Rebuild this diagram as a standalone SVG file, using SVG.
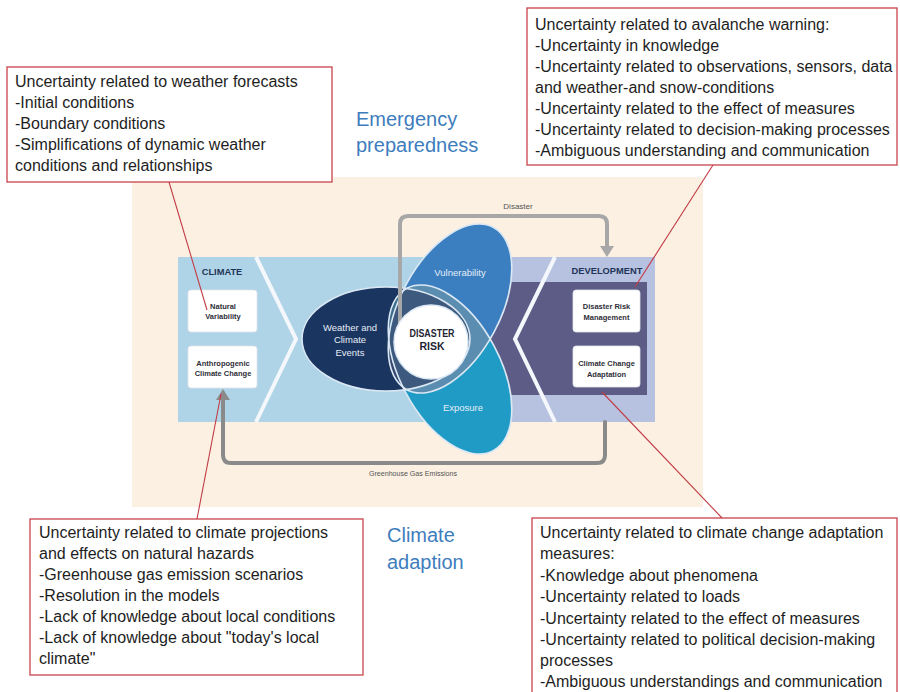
<svg xmlns="http://www.w3.org/2000/svg" width="900" height="692" viewBox="0 0 900 692">
  <defs>
    <style>
      .note{fill:#ffffff;stroke:#c8434a;stroke-width:1.3}
      .nt{font-family:"Liberation Sans",Arial,sans-serif;font-size:16px;fill:#1e1e1e}
      .lead{stroke:#c23b45;stroke-width:1.1;fill:none}
      .phase{font-family:"Liberation Sans",Arial,sans-serif;font-size:20px;fill:#3e7dbd}
      .card{fill:#ffffff;stroke:#dfe3ea;stroke-width:0.8}
      .ct{font-family:"Liberation Sans",Arial,sans-serif;font-size:7.5px;font-weight:bold;fill:#2e2e38;text-anchor:middle}
      .hd{font-family:"Liberation Sans",Arial,sans-serif;font-size:9.3px;font-weight:bold;fill:#1e3559;text-anchor:middle}
      .pt{font-family:"Liberation Sans",Arial,sans-serif;font-size:9.5px;fill:#e4edf6;text-anchor:middle}
      .edge{fill:none;stroke:#dbe8f4;stroke-width:1.6}
      .flow{fill:none;stroke-width:4;stroke-linecap:round;stroke-linejoin:round}
      .fl{font-family:"Liberation Sans",Arial,sans-serif;font-size:8px;fill:#555555;text-anchor:middle}
      .chev{fill:none;stroke:#f4f7fb;stroke-width:4}
    </style>
    <ellipse id="weatherShape" cx="386" cy="339" rx="84" ry="52"/>
    <ellipse id="vulnShape" cx="0" cy="0" rx="92" ry="50" transform="translate(450 308.5) rotate(-62)"/>
    <ellipse id="expoShape" cx="0" cy="0" rx="92" ry="50" transform="translate(450 369.5) rotate(62)"/>
    <clipPath id="inWeather"><use href="#weatherShape"/></clipPath>
    <clipPath id="inVuln"><use href="#vulnShape"/></clipPath>
  </defs>

  <rect width="900" height="692" fill="#ffffff"/>

  <!-- framework panel -->
  <g id="framework">
    <rect x="132" y="177" width="571" height="330" fill="#fbf0e2"/>
    <rect x="178" y="257" width="300" height="165" fill="#b0d4e7"/>
    <rect x="470" y="257" width="185" height="165" fill="#b7c1e0"/>
    <rect x="440" y="282" width="207" height="113" fill="#5c5c86"/>
    <polyline class="chev" points="256,257 296,339 256,422"/>
    <polyline class="chev" points="555,257 515,339 555,422"/>
  </g>

  <g id="climate">
    <text class="hd" x="222" y="274.5">CLIMATE</text>
  </g>
  <g id="natural-variability">
    <rect class="card" x="188" y="290" width="69" height="42" rx="3"/>
    <text class="ct" x="223" y="308.5">Natural</text>
    <text class="ct" x="223" y="318.5">Variability</text>
  </g>
  <g id="anthropogenic">
    <rect class="card" x="188" y="346" width="69" height="42" rx="3"/>
    <text class="ct" x="223" y="365.5">Anthropogenic</text>
    <text class="ct" x="223" y="375.5">Climate Change</text>
  </g>

  <g id="development">
    <text class="hd" x="607" y="273.5">DEVELOPMENT</text>
  </g>
  <g id="drm">
    <rect class="card" x="573" y="290" width="67" height="42" rx="3"/>
    <text class="ct" x="606.5" y="308.5">Disaster Risk</text>
    <text class="ct" x="606.5" y="319.5">Management</text>
  </g>
  <g id="cca">
    <rect class="card" x="573" y="346" width="67" height="41" rx="3"/>
    <text class="ct" x="606.5" y="365.5">Climate Change</text>
    <text class="ct" x="606.5" y="376.5">Adaptation</text>
  </g>

  <!-- three overlapping petals -->
  <g id="weather-events">
    <use href="#weatherShape" fill="#1b3561"/>
  </g>
  <g id="vulnerability">
    <use href="#vulnShape" fill="#3b7fc0"/>
  </g>
  <g id="exposure">
    <use href="#expoShape" fill="#1f9bc6"/>
  </g>
  <g id="overlaps">
    <g clip-path="url(#inWeather)"><use href="#vulnShape" fill="#34476f"/></g>
    <g clip-path="url(#inWeather)"><use href="#expoShape" fill="#3c6d8d"/></g>
    <g clip-path="url(#inVuln)"><use href="#expoShape" fill="#5a8db0"/></g>
    <g clip-path="url(#inWeather)">
      <g clip-path="url(#inVuln)"><use href="#expoShape" fill="#3d5a7e"/></g>
    </g>
    <use href="#weatherShape" class="edge"/>
    <use href="#vulnShape" class="edge"/>
    <use href="#expoShape" class="edge"/>
  </g>

  <!-- connectors -->
  <g id="connectors">
    <path class="flow" stroke="#a7a7a7" d="M410,338 Q400,338 400,330 V224 Q400,216 408,216 H599 Q607,216 607,224 V247"/>
    <polygon points="600,246 614,246 607,257" fill="#a7a7a7"/>
    <text class="fl" x="518" y="209">Disaster</text>
    <path class="flow" stroke="#8a8a8a" d="M605,422 V455 Q605,463 597,463 H231 Q223,463 223,455 V399"/>
    <polygon points="216,400 230,400 223,389" fill="#8a8a8a"/>
    <text class="fl" x="413" y="476" font-size="7.5" textLength="88" lengthAdjust="spacingAndGlyphs">Greenhouse Gas Emissions</text>
  </g>

  <g id="disaster-risk">
    <circle cx="431" cy="342" r="37" fill="#ffffff" stroke="#dbe8f4" stroke-width="1.5"/>
    <text x="432" y="337" font-family="'Liberation Sans',Arial,sans-serif" font-size="10.5" font-weight="bold" fill="#1f2533" text-anchor="middle" textLength="45" lengthAdjust="spacingAndGlyphs">DISASTER</text>
    <text x="432" y="350" font-family="'Liberation Sans',Arial,sans-serif" font-size="10.5" font-weight="bold" fill="#1f2533" text-anchor="middle">RISK</text>
  </g>

  <g id="petal-labels">
    <text class="pt" x="350" y="330.5">Weather and</text>
    <text class="pt" x="350" y="343">Climate</text>
    <text class="pt" x="350" y="355.5">Events</text>
    <text class="pt" x="460" y="275.5" font-size="10">Vulnerability</text>
    <text class="pt" x="463" y="410.5" font-size="10">Exposure</text>
  </g>

  <!-- phase labels -->
  <g id="emergency-preparedness">
    <text class="phase" x="356" y="126">Emergency</text>
    <text class="phase" x="356" y="152">preparedness</text>
  </g>
  <g id="climate-adaption">
    <text class="phase" x="387" y="542">Climate</text>
    <text class="phase" x="387" y="569">adaption</text>
  </g>

  <!-- uncertainty notes -->
  <g id="note-weather">
    <rect class="note" x="7" y="67" width="325" height="115"/>
    <text class="nt" x="15" y="87">Uncertainty related to weather forecasts</text>
    <text class="nt" x="15" y="108">-Initial conditions</text>
    <text class="nt" x="15" y="129">-Boundary conditions</text>
    <text class="nt" x="15" y="150">-Simplifications of dynamic weather</text>
    <text class="nt" x="15" y="171">conditions and relationships</text>
  </g>
  <g id="note-avalanche">
    <rect class="note" x="527" y="8" width="370" height="157"/>
    <text class="nt" x="535" y="30">Uncertainty related to avalanche warning:</text>
    <text class="nt" x="535" y="51">-Uncertainty in knowledge</text>
    <text class="nt" x="535" y="72">-Uncertainty related to observations, sensors, data</text>
    <text class="nt" x="535" y="93">and weather-and snow-conditions</text>
    <text class="nt" x="535" y="114">-Uncertainty related to the effect of measures</text>
    <text class="nt" x="535" y="135">-Uncertainty related to decision-making processes</text>
    <text class="nt" x="535" y="156">-Ambiguous understanding and communication</text>
  </g>
  <g id="note-projections">
    <rect class="note" x="30" y="519" width="333" height="156"/>
    <text class="nt" x="39" y="538">Uncertainty related to climate projections</text>
    <text class="nt" x="39" y="559">and effects on natural hazards</text>
    <text class="nt" x="39" y="580">-Greenhouse gas emission scenarios</text>
    <text class="nt" x="39" y="601">-Resolution in the models</text>
    <text class="nt" x="39" y="622">-Lack of knowledge about local conditions</text>
    <text class="nt" x="39" y="643">-Lack of knowledge about "today's local</text>
    <text class="nt" x="39" y="664">climate"</text>
  </g>
  <g id="note-adaptation">
    <rect class="note" x="532" y="518" width="365" height="185"/>
    <text class="nt" x="540" y="538">Uncertainty related to climate change adaptation</text>
    <text class="nt" x="540" y="559">measures:</text>
    <text class="nt" x="540" y="581">-Knowledge about phenomena</text>
    <text class="nt" x="540" y="602">-Uncertainty related to loads</text>
    <text class="nt" x="540" y="624">-Uncertainty related to the effect of measures</text>
    <text class="nt" x="540" y="645">-Uncertainty related to political decision-making</text>
    <text class="nt" x="540" y="666">processes</text>
    <text class="nt" x="540" y="687">-Ambiguous understandings and communication</text>
  </g>

  <!-- leader lines from notes -->
  <g id="leaders">
    <line class="lead" x1="169" y1="182" x2="207" y2="310"/>
    <line class="lead" x1="713" y1="165" x2="635" y2="287"/>
    <line class="lead" x1="197" y1="519" x2="221" y2="394"/>
    <line class="lead" x1="722" y1="518" x2="602" y2="392"/>
  </g>
</svg>
